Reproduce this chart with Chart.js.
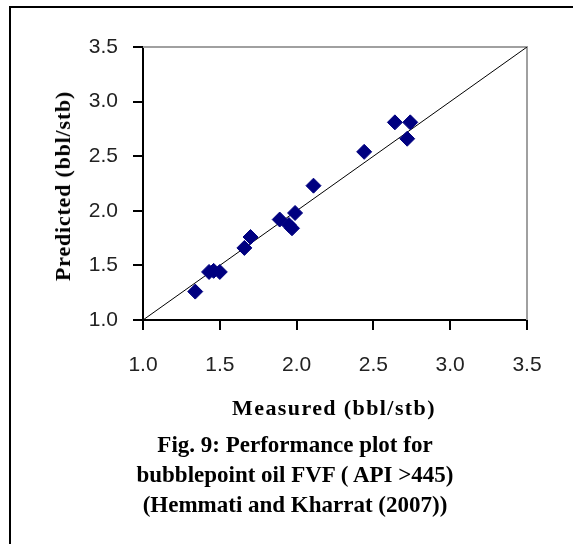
<!DOCTYPE html>
<html lang="en">
<head>
    <meta charset="UTF-8">
    <title>Fig. 9: Performance plot for bubblepoint oil FVF</title>
    <script src="https://cdn.jsdelivr.net/npm/chart.js"></script>
    <style>
        body {
            margin: 0;
            padding: 0;
            background: #fff;
        }

        .page {
            position: relative;
            width: 573px;
            height: 544px;
            overflow: hidden;
            font-family: "Liberation Serif", "Times New Roman", serif;
        }

        .frame {
            position: absolute;
            left: 9px;
            top: 6px;
            width: 600px;
            height: 600px;
            border-top: 2px solid #000;
            border-left: 2px solid #000;
        }

        canvas {
            position: absolute;
            left: 0;
            top: 0;
        }

        .label {
            position: absolute;
            font-weight: bold;
            white-space: nowrap;
            color: #000;
        }

        .y-title {
            left: 63px;
            top: 186px;
            font-size: 22px;
            letter-spacing: 0.8px;
            transform: translate(-50%, -50%) rotate(-90deg);
        }

        .x-title {
            left: 334px;
            top: 408px;
            font-size: 22px;
            letter-spacing: 1.4px;
            transform: translate(-50%, -50%);
        }

        .caption {
            left: 295px;
            top: 475px;
            font-size: 23px;
            line-height: 30px;
            text-align: center;
            transform: translate(-50%, -50%);
        }
    </style>
</head>
<body>
    <div class="page">
        <div class="frame"></div>
        <canvas id="fvfChart" width="573" height="544"></canvas>
        <div class="label y-title">Predicted (bbl/stb)</div>
        <div class="label x-title">Measured (bbl/stb)</div>
        <div class="label caption">Fig. 9: Performance plot for<br>bubblepoint oil FVF ( API &gt;445)<br>(Hemmati and Kharrat (2007))</div>
    </div>

    <script>
        // values
        const measured  = [1.34, 1.43, 1.46, 1.50, 1.66, 1.70, 1.89, 1.95, 1.97, 1.99, 2.11, 2.44, 2.64, 2.72, 2.74];
        const predicted = [1.26, 1.44, 1.45, 1.44, 1.66, 1.76, 1.92, 1.87, 1.84, 1.98, 2.23, 2.54, 2.81, 2.66, 2.81];
        const axisTicks = [1.0, 1.5, 2.0, 2.5, 3.0, 3.5];
        const parityLine = [{ x: 1.0, y: 1.0 }, { x: 3.5, y: 3.5 }];

        const points = measured.map((m, i) => ({ x: m, y: predicted[i] }));

        // gray border on the top and right of the plot area
        const plotBorder = {
            id: 'plotBorder',
            beforeDatasetsDraw(chart) {
                const { ctx, chartArea: a } = chart;
                ctx.save();
                ctx.strokeStyle = '#a0a0a0';
                ctx.lineWidth = 2;
                ctx.beginPath();
                ctx.moveTo(a.left, a.top);
                ctx.lineTo(a.right, a.top);
                ctx.lineTo(a.right, a.bottom);
                ctx.stroke();
                ctx.restore();
            }
        };

        const tickFont = { family: '"Liberation Sans", Arial, sans-serif', size: 21 };

        function axisOptions(extra) {
            return Object.assign({
                type: 'linear',
                min: 1.0,
                max: 3.5,
                afterBuildTicks: (axis) => {
                    axis.ticks = axisTicks.map((v) => ({ value: v }));
                },
                grid: {
                    drawOnChartArea: false,
                    drawTicks: true,
                    tickLength: 10,
                    color: '#000',
                    lineWidth: 2,
                },
                border: { color: '#000', width: 2 },
            }, extra);
        }

        const ctx = document.getElementById('fvfChart').getContext('2d');
        new Chart(ctx, {
            data: {
                datasets: [
                    {
                        type: 'line',
                        data: parityLine,
                        borderColor: '#000',
                        borderWidth: 1,
                        pointRadius: 0,
                        fill: false,
                        order: 2,
                    },
                    {
                        type: 'scatter',
                        data: points,
                        pointStyle: 'rectRot',
                        pointRadius: 7.5,
                        backgroundColor: '#000080',
                        borderColor: '#000080',
                        borderWidth: 1,
                        clip: false,
                        order: 1,
                    },
                ],
            },
            options: {
                responsive: false,
                animation: false,
                devicePixelRatio: 1,
                layout: { padding: { left: 0, top: 47, right: 46, bottom: 0 } },
                plugins: {
                    legend: { display: false },
                    tooltip: { enabled: false },
                },
                scales: {
                    x: axisOptions({
                        position: 'bottom',
                        afterFit: (scale) => { scale.height = 224; },
                        ticks: { font: tickFont, color: '#222', padding: 23, maxRotation: 0, callback: (v) => Number(v).toFixed(1) },
                    }),
                    y: axisOptions({
                        position: 'left',
                        afterFit: (scale) => { scale.width = 143; },
                        ticks: { font: tickFont, color: '#222', padding: 15, callback: (v) => Number(v).toFixed(1) },
                    }),
                },
            },
            plugins: [plotBorder],
        });
    </script>
</body>
</html>
